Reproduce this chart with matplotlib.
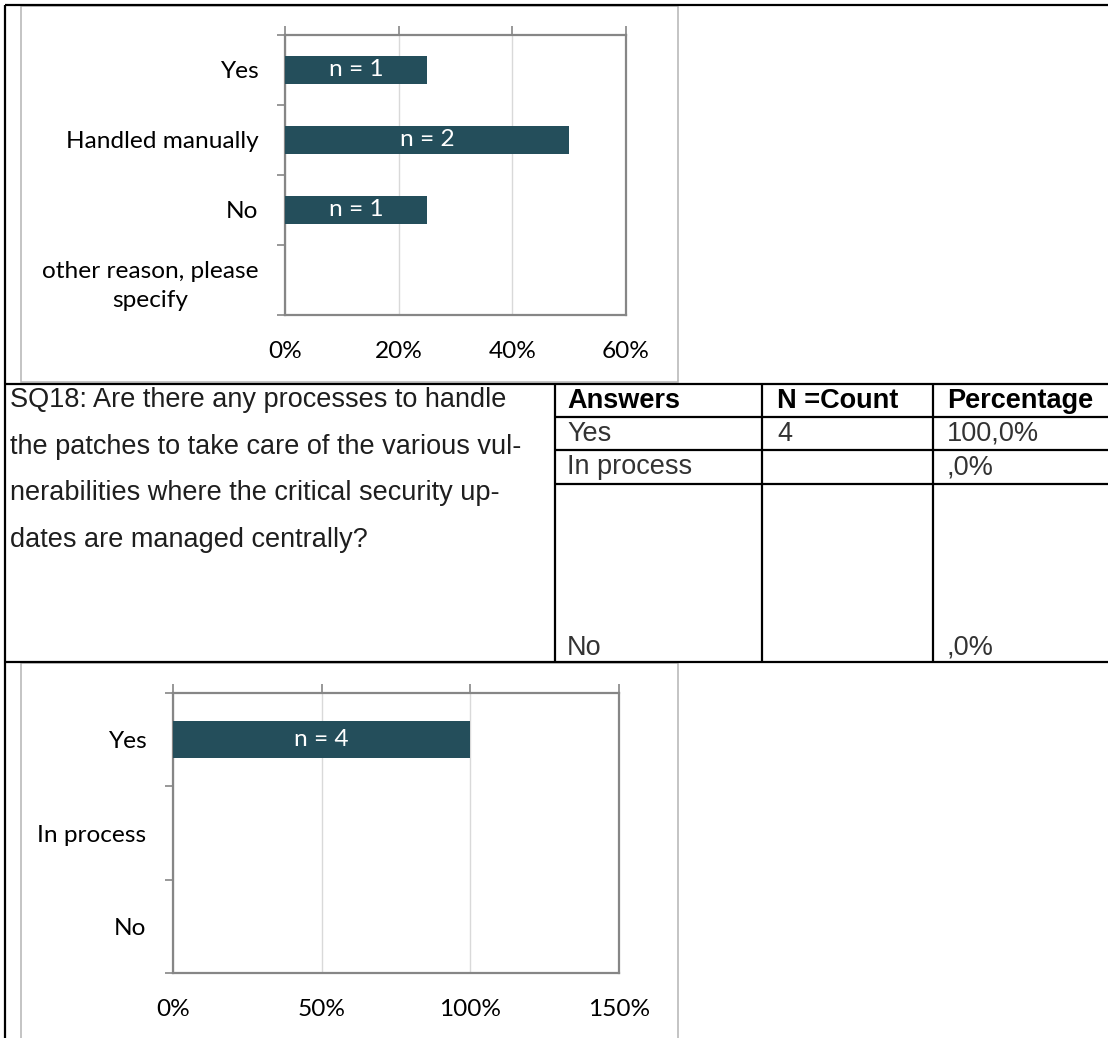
import numpy as np
import matplotlib
matplotlib.use("Agg")
import matplotlib.pyplot as plt
from matplotlib.ticker import FuncFormatter
from matplotlib.patches import Rectangle

# chart above SQ18 (its question is cut off the page)
q17_labels = ["Yes", "Handled manually", "No", "other reason, please\nspecify"]
q17_counts = [1, 2, 1, 0]
q17_ticks = [0, 0.2, 0.4, 0.6]

# SQ18
sq18_question = [
    "SQ18: Are there any processes to handle",
    "the patches to take care of the various vul-",
    "nerabilities where the critical security up-",
    "dates are managed centrally?",
]
sq18_labels = ["Yes", "In process", "No"]
sq18_counts = [4, 0, 0]
sq18_ticks = [0, 0.5, 1.0, 1.5]

table_header = ["Answers", "N =Count", "Percentage"]
table_answers = ["Yes", "In process", "No"]
table_counts = ["4", "", ""]
table_pcts = ["100,0%", ",0%", ",0%"]

W, H = 1108, 1038
BAR = "#244e5b"
AXIS_GREY = "#868686"
CHART_FONT = "Lato"
DOC_FONT = "Liberation Sans"
CHART_FS = 17.6
DOC_FS = 19.5

fig = plt.figure(figsize=(W / 100, H / 100), dpi=100)

# page layer in pixel coordinates (document table lines, text)
page = fig.add_axes([0, 0, 1, 1], zorder=0)
page.set_xlim(0, W)
page.set_ylim(H, 0)
page.axis("off")


def px_axes(l, t, r, b):
    return fig.add_axes([l / W, 1 - b / H, (r - l) / W, (b - t) / H], zorder=2)


def bar_chart(ax, labels, counts, ticks):
    counts = np.array(counts)
    share = counts / counts.sum()
    y = np.arange(len(labels))
    ax.barh(y, share, height=0.4, color=BAR, zorder=3)
    for yi, s, c in zip(y, share, counts):
        if c > 0:
            ax.text(s / 2, yi, f"n = {c}", color="white", ha="center", va="center",
                    fontsize=CHART_FS, family=CHART_FONT, zorder=4)
    ax.set_ylim(len(labels) - 0.5, -0.5)
    ax.set_xlim(ticks[0], ticks[-1])
    ax.set_xticks(ticks)
    ax.xaxis.set_major_formatter(FuncFormatter(lambda v, _: f"{v * 100:.0f}%"))
    ax.set_yticks(y)
    ax.set_yticklabels(labels, multialignment="center", linespacing=1.45)
    ax.set_yticks(np.arange(len(labels) + 1) - 0.5, minor=True)
    ax.tick_params(axis="y", which="major", length=0, pad=19)
    ax.tick_params(axis="y", which="minor", length=5.5, width=1.2, color=AXIS_GREY, direction="out")
    ax.tick_params(axis="x", bottom=False, top=True, labelbottom=True, labeltop=False,
                   length=6.5, width=1.2, color=AXIS_GREY, direction="out", pad=12.5)
    for lab in ax.get_xticklabels() + ax.get_yticklabels():
        lab.set_family(CHART_FONT)
        lab.set_fontsize(CHART_FS)
        lab.set_color("black")
    ax.grid(axis="x", color="#d9d9d9", lw=1.0, zorder=0)
    ax.set_axisbelow(True)
    for sp in ax.spines.values():
        sp.set_color(AXIS_GREY)
        sp.set_linewidth(1.6)


# chart area borders
for top, bottom in [(6, 382), (663, 1045)]:
    page.add_patch(Rectangle((21, top), 657, bottom - top, fill=False, ec="#b4b4b4", lw=1.1))

# document / table rules
rule = dict(color="black", lw=1.6, solid_capstyle="butt")
page.plot([5, W], [5, 5], **rule)
page.plot([5, 5], [5, H], **rule)
page.plot([5, W], [384, 384], **rule)
page.plot([5, W], [662, 662], **rule)
for x in [555, 762, 933]:
    page.plot([x, x], [384, 662], **rule)
for yy in [417, 450, 484]:
    page.plot([555, W], [yy, yy], **rule)

# question text
for i, line in enumerate(sq18_question):
    page.text(10, 400 + i * 46.7, line, ha="left", va="center",
              fontsize=DOC_FS, family=DOC_FONT, color="#1e1e1e")

# table
col_x = [567, 777, 947]
for x, h in zip(col_x, table_header):
    page.text(x, 401, h, ha="left", va="center", fontsize=DOC_FS, family=DOC_FONT,
              fontweight="bold", color="black")
row_y = [434, 467, 648]
for yy, a, c, p in zip(row_y, table_answers, table_counts, table_pcts):
    for x, s in zip(col_x, [a, c, p]):
        page.text(x, yy, s, ha="left", va="center", fontsize=DOC_FS, family=DOC_FONT,
                  color="#333333")

ax1 = px_axes(285, 35, 626, 315)
bar_chart(ax1, q17_labels, q17_counts, q17_ticks)

ax2 = px_axes(173, 693, 619, 973)
bar_chart(ax2, sq18_labels, sq18_counts, sq18_ticks)

fig.savefig("out.png", dpi=100)
